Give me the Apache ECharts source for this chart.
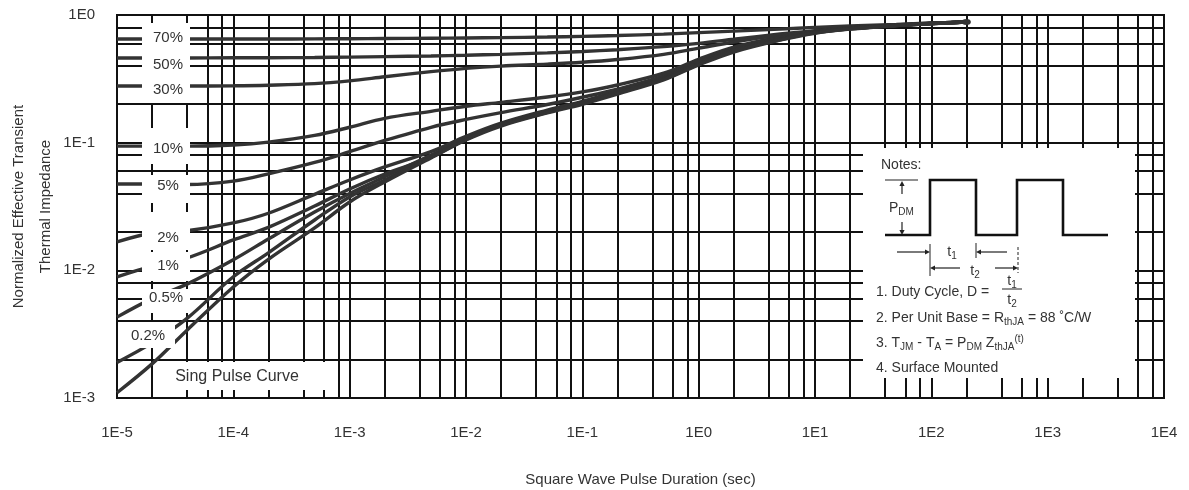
<!DOCTYPE html>
<html><head><meta charset="utf-8">
<script src="https://cdn.jsdelivr.net/npm/echarts@6/dist/echarts.min.js"></script>
<style>html,body{margin:0;padding:0;background:#fff}#c{width:1189px;height:490px}</style>
</head><body><div id="c"></div>
<script>
// ---------- DATA ----------
const pulseDurations = [1e-5,2e-5,4e-5,1e-4,2e-4,5e-4,1e-3,2e-3,5e-3,1e-2,2e-2,5e-2,1e-1,2e-1,5e-1,1,2,5,10,20,50,100,200];
const d70 = [0.649,0.649,0.649,0.649,0.649,0.65,0.652,0.655,0.658,0.661,0.665,0.672,0.68,0.69,0.708,0.728,0.748,0.775,0.8,0.82,0.845,0.865,0.881];
const d50 = [0.461,0.461,0.461,0.462,0.463,0.465,0.468,0.472,0.478,0.484,0.492,0.505,0.518,0.535,0.565,0.6,0.645,0.71,0.755,0.795,0.835,0.862,0.881];
const d30 = [0.278,0.278,0.278,0.279,0.282,0.29,0.305,0.328,0.36,0.382,0.398,0.412,0.426,0.448,0.492,0.55,0.615,0.695,0.748,0.79,0.832,0.86,0.881];
const d10 = [0.094,0.094,0.094,0.096,0.101,0.114,0.132,0.155,0.176,0.193,0.207,0.228,0.25,0.283,0.35,0.45,0.56,0.672,0.745,0.79,0.832,0.86,0.881];
const d5  = [0.0475,0.0475,0.047,0.05,0.057,0.07,0.085,0.104,0.132,0.152,0.172,0.199,0.227,0.262,0.333,0.435,0.55,0.66,0.735,0.785,0.83,0.858,0.881];
const d2  = [0.0167,0.0196,0.0204,0.0235,0.028,0.0394,0.051,0.0645,0.085,0.112,0.142,0.18,0.211,0.253,0.326,0.427,0.54,0.66,0.735,0.785,0.83,0.858,0.881];
const d1  = [0.0089,0.0108,0.0125,0.0173,0.0217,0.0319,0.0434,0.0568,0.077,0.107,0.14,0.177,0.208,0.249,0.321,0.421,0.532,0.649,0.73,0.782,0.828,0.857,0.881];
const d05 = [0.0043,0.006,0.0078,0.0121,0.0176,0.0286,0.04,0.054,0.08,0.108,0.138,0.175,0.205,0.246,0.317,0.416,0.527,0.645,0.727,0.78,0.827,0.856,0.881];
const d02 = [0.0019,0.0027,0.0042,0.0089,0.0137,0.0248,0.0376,0.051,0.077,0.106,0.137,0.173,0.204,0.244,0.314,0.412,0.522,0.64,0.724,0.778,0.826,0.856,0.881];
const dSingle = [0.0011,0.00185,0.0034,0.0074,0.0122,0.0215,0.0343,0.0492,0.0759,0.105,0.135,0.171,0.2,0.24,0.31,0.406,0.513,0.635,0.72,0.775,0.825,0.855,0.881];
const curveNames = ['70%','50%','30%','10%','5%','2%','1%','0.5%','0.2%','Sing Pulse Curve'];
const curveValues = [d70,d50,d30,d10,d5,d2,d1,d05,d02,dSingle];
const xMinorGrid = [];
for (let e = -5; e <= 3; e++) for (const m of [2,4,6,8]) xMinorGrid.push(m * Math.pow(10, e));
const yMinorGrid = [];
for (let e = -3; e <= -1; e++) for (const m of [2,4,6,8]) yMinorGrid.push(m * Math.pow(10, e));
const X_MIN = 1e-5, X_MAX = 1e4, Y_MIN = 1e-3, Y_MAX = 1;

// ---------- LAYOUT ----------
const FONT = 'Liberation Sans, Arial, sans-serif';
const TXT = '#333';
const GRID_L = 117, GRID_T = 15, GRID_R = 1164, GRID_B = 398;
// label boxes: [x, y, w, h, textX, textY]
const labelBoxes = [
  [142,23,48,27,168,38],[142,50,48,23,168,65],[142,73,48,30,168,90],
  [142,128,48,36,168,149],[142,175,48,28,168,186],[142,212,48,38,168,238],
  [142,252,48,29,168,266],[142,289,48,24,166,298],[127,322,48,26,148,336],
  [163,362,162,28,237,377]
];

const chart = echarts.init(document.getElementById('c'), null, {renderer:'canvas'});

const series = curveValues.map((vals, i) => ({
  name: curveNames[i], type: 'line', smooth: 0.35, symbol: 'none', silent: true,
  lineStyle: {color: '#333', width: 3.4}, z: 3,
  data: pulseDurations.map((t, k) => [t, vals[k]])
}));
series[0].markPoint = {
  silent: true, symbol: 'circle', symbolSize: [9, 6], itemStyle: {color: '#333'}, label: {show: false},
  data: [{coord: [pulseDurations[pulseDurations.length - 1], d70[d70.length - 1]]}]
};
series.push({
  type: 'lines', coordinateSystem: 'cartesian2d', silent: true, z: 1, animation: false,
  lineStyle: {color: '#111', width: 2, opacity: 1},
  data: xMinorGrid.map(v => ({coords: [[v, Y_MIN], [v, Y_MAX]]}))
    .concat(yMinorGrid.map(v => ({coords: [[X_MIN, v], [X_MAX, v]]})))
});

function ln(x1,y1,x2,y2,w,dash){return {type:'line',z:101,silent:true,shape:{x1,y1,x2,y2},style:{stroke:'#222',lineWidth:w||1.2,lineDash:dash||null}};}
function arrow(x,y,dir){
  const s=5,h=2.6; let pts;
  if(dir==='r') pts=[[x,y],[x-s,y-h],[x-s,y+h]];
  else if(dir==='l') pts=[[x,y],[x+s,y-h],[x+s,y+h]];
  else if(dir==='u') pts=[[x,y],[x-h,y+s],[x+h,y+s]];
  else pts=[[x,y],[x-h,y-s],[x+h,y-s]];
  return {type:'polygon',z:101,silent:true,shape:{points:pts},style:{fill:'#222'}};
}
const rich = {
  n:{fontSize:14,fontFamily:FONT,fill:TXT,color:TXT,lineHeight:18},
  sub:{fontSize:10,fontFamily:FONT,fill:TXT,color:TXT,verticalAlign:'bottom',lineHeight:10},
  sup:{fontSize:10,fontFamily:FONT,fill:TXT,color:TXT,verticalAlign:'top',lineHeight:10}
};
function txt(x,y,text,size,align,useRich){
  const st={text,x,y,fill:TXT,fontSize:size||14,fontFamily:FONT,textAlign:align||'left',align:align||'left',textVerticalAlign:'middle',verticalAlign:'middle'};
  if(useRich) st.rich=rich;
  return {type:'text',z:102,silent:true,style:st};
}

const graphics = [];
labelBoxes.forEach((b, i) => {
  graphics.push({type:'rect',z:100,silent:true,shape:{x:b[0],y:b[1],width:b[2],height:b[3]},style:{fill:'#fff'}});
  graphics.push(txt(b[4], b[5], curveNames[i], i === 9 ? 16 : 15, 'center'));
});
// Notes box
graphics.push({type:'rect',z:100,silent:true,shape:{x:863,y:148,width:272,height:230},style:{fill:'#fff'}});
graphics.push(txt(881,165,'Notes:',14));
graphics.push({type:'polyline',z:101,silent:true,shape:{points:[[885,235],[930,235],[930,180],[976,180],[976,235],[1017,235],[1017,180],[1063,180],[1063,235],[1108,235]]},style:{stroke:'#111',lineWidth:2.6,fill:null}});
graphics.push(ln(885,180,918,180,1.2));
graphics.push(ln(902,185,902,194,1.2), arrow(902,181,'u'));
graphics.push(ln(902,222,902,231,1.2), arrow(902,235,'d'));
graphics.push(txt(889,208,'{n|P}{sub|DM}',14,'left',true));
graphics.push(ln(897,252,926,252,1.2), arrow(930,252,'r'), ln(930,244,930,276,1));
graphics.push(txt(952,252,'{n|t}{sub|1}',14,'center',true));
graphics.push(ln(980,252,1007,252,1.2), arrow(976,252,'l'), ln(976,243,976,258,1));
graphics.push(ln(934,268,960,268,1.2), arrow(930,268,'l'));
graphics.push(txt(975,271,'{n|t}{sub|2}',14,'center',true));
graphics.push(ln(995,268,1014,268,1.2), arrow(1018,268,'r'), ln(1018,247,1018,273,1,[3,2]));
graphics.push(txt(876,292,'1. Duty Cycle, D =',14));
graphics.push(txt(1012,281,'{n|t}{sub|1}',14,'center',true));
graphics.push(ln(1002,289,1022,289,1));
graphics.push(txt(1012,300,'{n|t}{sub|2}',14,'center',true));
graphics.push(txt(876,318,'{n|2. Per Unit Base = R}{sub|thJA}{n| = 88 ˚C/W}',14,'left',true));
graphics.push(txt(876,343,'{n|3. T}{sub|JM}{n| - T}{sub|A}{n| = P}{sub|DM}{n| Z}{sub|thJA}{sup|(t)}',14,'left',true));
graphics.push(txt(876,368,'4. Surface Mounted',14));

const expFmt = v => '1E' + Math.round(Math.log10(v));

chart.setOption({
  animation: false,
  backgroundColor: '#fff',
  grid: {left: GRID_L, top: GRID_T, width: GRID_R - GRID_L, height: GRID_B - GRID_T,
         show: true, borderColor: '#111', borderWidth: 2, backgroundColor: '#fff', containLabel: false, outerBoundsMode: 'none'},
  xAxis: {
    type: 'log', logBase: 10, min: X_MIN, max: X_MAX, splitNumber: 10,
    name: 'Square Wave Pulse Duration (sec)', nameLocation: 'middle', nameGap: 74, nameMoveOverlap: false,
    nameTextStyle: {fontSize: 15, color: TXT, fontFamily: FONT},
    axisLine: {show: true, lineStyle: {color: '#111', width: 2}},
    axisTick: {show: false},
    axisLabel: {formatter: expFmt, fontSize: 15, color: TXT, fontFamily: FONT, margin: 27},
    splitLine: {show: true, lineStyle: {color: '#111', width: 2}},
    minorTick: {show: false}, minorSplitLine: {show: false}
  },
  yAxis: {
    type: 'log', logBase: 10, min: Y_MIN, max: Y_MAX, splitNumber: 10,
    name: 'Normalized Effective Transient\nThermal Impedance', nameLocation: 'middle', nameGap: 58, nameMoveOverlap: false,
    nameTextStyle: {fontSize: 15, color: TXT, fontFamily: FONT, lineHeight: 27},
    axisLine: {show: true, lineStyle: {color: '#111', width: 2}},
    axisTick: {show: false},
    axisLabel: {formatter: expFmt, fontSize: 15, color: TXT, fontFamily: FONT, margin: 22},
    splitLine: {show: true, lineStyle: {color: '#111', width: 2}},
    minorTick: {show: false}, minorSplitLine: {show: false}
  },
  series: series,
  graphic: {elements: graphics}
});
</script></body></html>
